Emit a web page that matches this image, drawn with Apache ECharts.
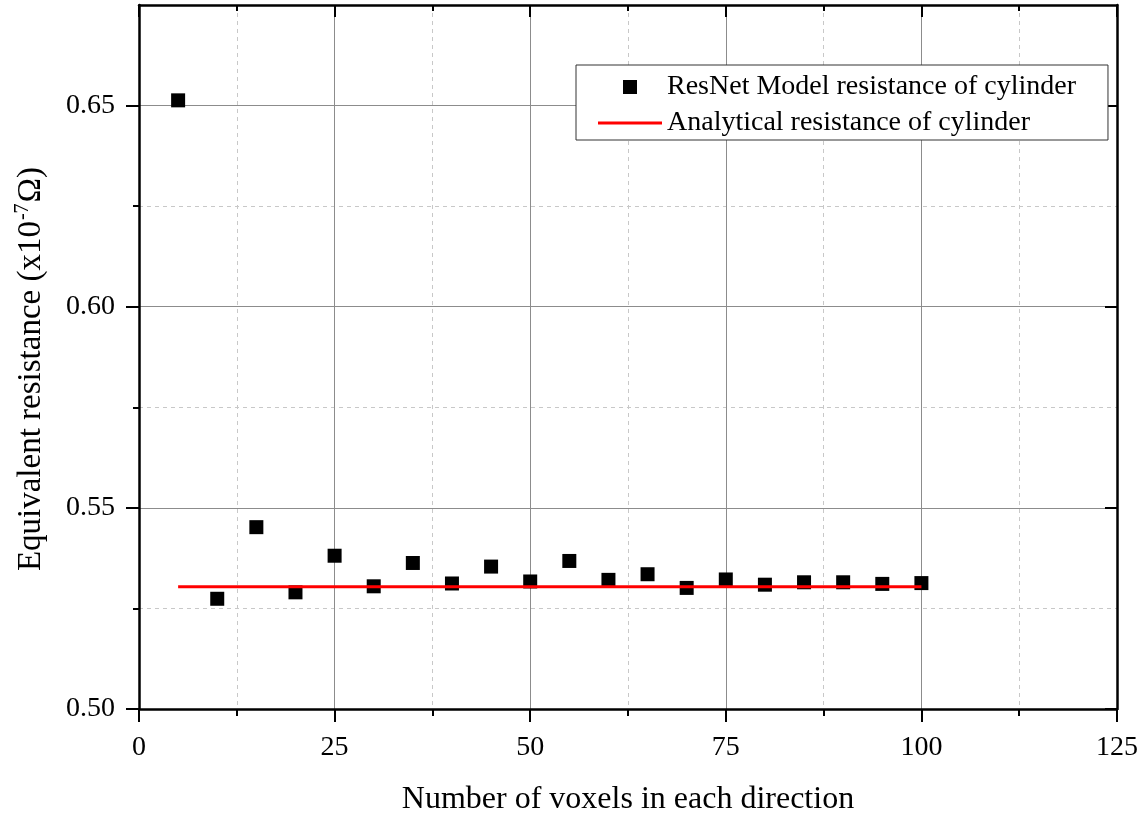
<!DOCTYPE html>
<html>
<head>
<meta charset="utf-8">
<title>Equivalent resistance vs. voxel count</title>
<script src="https://cdn.jsdelivr.net/npm/echarts@6/dist/echarts.min.js"></script>
<style>
  html, body { margin: 0; padding: 0; background: #ffffff; }
  #chart { width: 1144px; height: 813px; }
</style>
</head>
<body>
<div id="chart"></div>
<script>
// Voxels per direction and the ResNet model's equivalent resistance (x10^-7 Ω)
const voxels = [5, 10, 15, 20, 25, 30, 35, 40, 45, 50, 55, 60, 65, 70, 75, 80, 85, 90, 95, 100];
const resnetResistance = [0.6513, 0.5274, 0.5452, 0.5290, 0.5381, 0.5305, 0.5363, 0.5312, 0.5354, 0.5317,
                          0.5368, 0.5321, 0.5335, 0.5301, 0.5322, 0.5309, 0.5315, 0.5315, 0.5311, 0.5313];
// Analytical resistance of the cylinder, drawn across the sampled range
const analyticalRange = [5, 100];
const analyticalResistance = 0.5304;

// Axis ticks
const xTicks = [0, 25, 50, 75, 100, 125];
const yMajorTicks = [0.50, 0.55, 0.60, 0.65];
const yMinorTicks = [0.525, 0.575, 0.625];
const yRange = [0.50, 0.675];

const seriesNames = ['ResNet Model resistance of cylinder', 'Analytical resistance of cylinder'];

const FONT = '"Liberation Serif", "Times New Roman", serif';
const AXIS_COLOR = '#000000';

const chart = echarts.init(document.getElementById('chart'), null, { renderer: 'canvas' });

const baseY = {
  type: 'value',
  min: yRange[0],
  max: yRange[1],
  axisLine: { show: false },
  axisLabel: { show: false },
  axisTick: { show: false },
  splitLine: { show: false }
};

const option = {
  animation: false,
  backgroundColor: '#ffffff',
  grid: { left: 139, right: 27, top: 5, bottom: 104, containLabel: false, outerBoundsMode: 'none' },
  legend: {
    orient: 'vertical',
    left: 576,
    top: 65,
    padding: [7, 32, 2, 22],
    itemGap: 6,
    itemWidth: 64,
    itemHeight: 14,
    borderColor: '#333333',
    borderWidth: 1,
    backgroundColor: '#ffffff',
    textStyle: { fontFamily: FONT, fontSize: 28, color: '#000000', lineHeight: 30 },
    data: [
      { name: seriesNames[0], icon: 'path://M0,0L0,0M64,14L64,14M25,0L39,0L39,14L25,14Z' },
      { name: seriesNames[1], icon: 'path://M0,0L0,0M64,14L64,14M0,5.5L64,5.5L64,8.5L0,8.5Z' }
    ]
  },
  xAxis: [
    {
      type: 'value',
      position: 'bottom',
      min: xTicks[0],
      max: xTicks[xTicks.length - 1],
      interval: 25,
      name: 'Number of voxels in each direction',
      nameLocation: 'middle',
      nameGap: 75,
      nameTextStyle: { fontFamily: FONT, fontSize: 32, color: '#000000' },
      axisLine: { show: true, onZero: false, lineStyle: { color: AXIS_COLOR, width: 2.5 } },
      axisTick: { show: true, length: 13, lineStyle: { color: AXIS_COLOR, width: 2 } },
      minorTick: { show: true, splitNumber: 2, length: 7, lineStyle: { color: AXIS_COLOR, width: 2 } },
      axisLabel: { fontFamily: FONT, fontSize: 28, color: '#000000', margin: 25 },
      splitLine: { show: true, lineStyle: { color: '#8c8c8c', width: 1 } },
      minorSplitLine: { show: true, lineStyle: { color: '#c8c8c8', width: 1, type: [4, 4] } }
    },
    {
      type: 'value',
      position: 'top',
      min: xTicks[0],
      max: xTicks[xTicks.length - 1],
      interval: 25,
      axisLine: { show: true, onZero: false, lineStyle: { color: AXIS_COLOR, width: 2.5 } },
      axisTick: { show: true, inside: true, length: 12, lineStyle: { color: AXIS_COLOR, width: 2 } },
      minorTick: { show: true, splitNumber: 2, length: 6, lineStyle: { color: AXIS_COLOR, width: 2 } },
      axisLabel: { show: false },
      splitLine: { show: false }
    }
  ],
  yAxis: [
    {
      type: 'value',
      position: 'left',
      min: yRange[0],
      max: yRange[1],
      name: 'Equivalent resistance (x10{sup|-7}Ω)',
      nameLocation: 'middle',
      nameRotate: 90,
      nameGap: 90,
      nameTextStyle: {
        fontFamily: FONT, fontSize: 33, color: '#000000',
        padding: [0, 24, 0, 0],
        rich: {
          sup: { fontFamily: FONT, fontSize: 20, color: '#000000', verticalAlign: 'bottom', padding: [0, 1, 16, 1] }
        }
      },
      axisLine: { show: true, onZero: false, lineStyle: { color: AXIS_COLOR, width: 2.5 } },
      axisTick: { show: true, length: 13, customValues: yMajorTicks, lineStyle: { color: AXIS_COLOR, width: 2 } },
      axisLabel: {
        fontFamily: FONT, fontSize: 28, color: '#000000', margin: 24,
        customValues: yMajorTicks,
        formatter: v => v.toFixed(2)
      },
      splitLine: { show: true, lineStyle: { color: '#8c8c8c', width: 1 } }
    },
    Object.assign({}, baseY, {
      position: 'left',
      axisTick: { show: true, length: 6, customValues: yMinorTicks, lineStyle: { color: AXIS_COLOR, width: 2 } },
      splitLine: { show: true, lineStyle: { color: '#c8c8c8', width: 1, type: [4, 4] } }
    }),
    Object.assign({}, baseY, {
      position: 'right',
      axisLine: { show: true, onZero: false, lineStyle: { color: AXIS_COLOR, width: 2.5 } },
      axisTick: { show: true, inside: true, length: 12, customValues: yMajorTicks, lineStyle: { color: AXIS_COLOR, width: 2 } }
    }),
    Object.assign({}, baseY, {
      position: 'right',
      axisTick: { show: true, inside: true, length: 5, customValues: yMinorTicks, lineStyle: { color: AXIS_COLOR, width: 2 } }
    })
  ],
  series: [
    {
      name: seriesNames[0],
      type: 'scatter',
      xAxisIndex: 0,
      yAxisIndex: 0,
      symbol: 'rect',
      symbolSize: 14,
      itemStyle: { color: '#000000', opacity: 1 },
      data: voxels.map((v, i) => [v, resnetResistance[i]])
    },
    {
      name: seriesNames[1],
      type: 'line',
      xAxisIndex: 0,
      yAxisIndex: 0,
      symbol: 'none',
      lineStyle: { color: '#ff0000', width: 3 },
      itemStyle: { color: '#ff0000' },
      data: analyticalRange.map(v => [v, analyticalResistance])
    }
  ]
};

chart.setOption(option);
</script>
</body>
</html>
